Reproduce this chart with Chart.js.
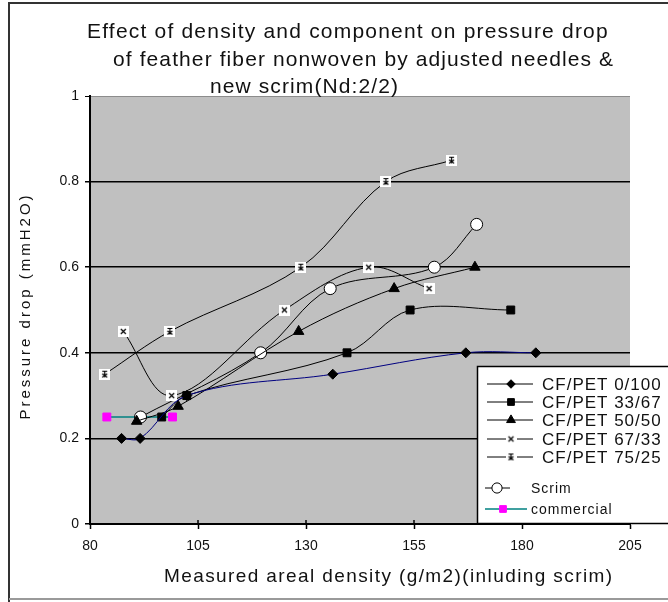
<!DOCTYPE html>
<html>
<head>
<meta charset="utf-8">
<script src="https://cdn.jsdelivr.net/npm/chart.js@4.4.1/dist/chart.umd.min.js"></script>
<style>
    html, body { margin: 0; padding: 0; background: #ffffff; }
    #quadro { width: 668px; height: 602px; }
</style>
</head>
<body>
<div id="quadro"><canvas id="graficoQueda" width="668" height="602"></canvas></div>
<script>
//===============================================================
// ========================== DADOS =============================
//===============================================================
// densidade areal medida (g/m2) x queda de pressao (mmH2O)
const densidade0100 = [87.3, 91.6, 102.4, 136.2, 167.0, 183.2];
const queda0100 = [0.20, 0.20, 0.30, 0.35, 0.40, 0.40];

const densidade3367 = [96.6, 102.4, 139.5, 154.1, 177.4];
const queda3367 = [0.25, 0.30, 0.40, 0.50, 0.50];

const densidade5050 = [90.8, 100.4, 128.3, 150.4, 169.1];
const queda5050 = [0.24, 0.275, 0.45, 0.55, 0.60];

const densidade6733 = [87.7, 98.9, 125.0, 144.5, 158.5];
const queda6733 = [0.45, 0.30, 0.50, 0.60, 0.55];

const densidade7525 = [83.4, 98.5, 128.8, 148.5, 163.7];
const queda7525 = [0.35, 0.45, 0.60, 0.80, 0.85];

const densidadeScrim = [91.7, 119.5, 135.6, 159.7, 169.5];
const quedaScrim = [0.25, 0.40, 0.55, 0.60, 0.70];

const densidadeComercial = [83.9, 99.1];
const quedaComercial = [0.25, 0.25];

const nomesSeries = [
    "CF/PET 0/100",
    "CF/PET 33/67",
    "CF/PET 50/50",
    "CF/PET 67/33",
    "CF/PET 75/25",
    "Scrim",
    "commercial"
];

const ticksX = [80, 105, 130, 155, 180, 205];
const ticksY = [0, 0.2, 0.4, 0.6, 0.8, 1];

const linhasTitulo = [
    "Effect of density and component on pressure drop",
    "of feather fiber nonwoven by adjusted needles &",
    "new scrim(Nd:2/2)"
];
const tituloX = "Measured areal density (g/m2)(inluding scrim)";
const tituloY = "Pressure drop (mmH2O)";

//===============================================================
// ========================= FUNÇÕES ============================
//===============================================================

function pontos(xs, ys) {
    return xs.map((x, i) => ({ x: x, y: ys[i] }));
}

// marcador em caixa branca (x e estrela do excel)
function marcadorCaixa(desenho) {
    const c = document.createElement("canvas");
    c.width = 11;
    c.height = 11;
    const g = c.getContext("2d");
    g.fillStyle = "#ffffff";
    g.fillRect(0, 0, 11, 11);
    g.strokeStyle = "#000000";
    g.lineWidth = 1.2;
    desenho(g);
    return c;
}

const marcadorX = marcadorCaixa(g => {
    g.beginPath();
    g.moveTo(3, 3); g.lineTo(8, 8);
    g.moveTo(8, 3); g.lineTo(3, 8);
    g.stroke();
});

const marcadorEstrela = marcadorCaixa(g => {
    g.beginPath();
    g.moveTo(3, 2.5); g.lineTo(8, 2.5);
    g.moveTo(5.5, 2.5); g.lineTo(5.5, 8.5);
    g.moveTo(3, 5); g.lineTo(8, 8.5);
    g.moveTo(8, 5); g.lineTo(3, 8.5);
    g.stroke();
});

function serie(indice, xs, ys, extra) {
    return Object.assign({
        label: nomesSeries[indice],
        data: pontos(xs, ys),
        showLine: true,
        tension: 0.35,
        borderColor: "#000000",
        borderWidth: 1,
        pointBackgroundColor: "#000000",
        pointBorderColor: "#000000",
        pointBorderWidth: 1,
        pointRadius: 5
    }, extra);
}

function texto(g, str, x, y, fonte, espacamento, alinhamento) {
    g.font = fonte;
    g.letterSpacing = espacamento + "px";
    g.textAlign = alinhamento || "left";
    g.textBaseline = "alphabetic";
    g.fillText(str, x, y);
}

//===============================================================
// ========================= PLUGINS ============================
//===============================================================

const fundoPlot = {
    id: "fundoPlot",
    beforeDraw(chart) {
        const { ctx, chartArea: a } = chart;
        ctx.save();
        ctx.fillStyle = "#c0c0c0";
        ctx.fillRect(a.left, a.top, a.right - a.left, a.bottom - a.top);
        ctx.restore();
    }
};

const textosEMoldura = {
    id: "textosEMoldura",
    afterDraw(chart) {
        const g = chart.ctx;
        g.save();
        g.fillStyle = "#111111";

        // titulo em tres linhas
        texto(g, linhasTitulo[0], 87, 38, "21px 'Liberation Sans', Arial, sans-serif", 1.2);
        texto(g, linhasTitulo[1], 113, 66, "21px 'Liberation Sans', Arial, sans-serif", 1.1);
        texto(g, linhasTitulo[2], 210, 93, "21px 'Liberation Sans', Arial, sans-serif", 1.1);

        // eixo x
        texto(g, tituloX, 164, 582, "19px 'Liberation Sans', Arial, sans-serif", 1.4);

        // eixo y (rotacionado)
        g.save();
        g.translate(30, 306);
        g.rotate(-Math.PI / 2);
        texto(g, tituloY, 0, 0, "15px 'Liberation Sans', Arial, sans-serif", 3, "center");
        g.restore();

        // moldura externa
        g.strokeStyle = "#333333";
        g.lineWidth = 2;
        g.beginPath();
        g.moveTo(9, 602); g.lineTo(9, 3); g.lineTo(668, 3);
        g.stroke();
        g.strokeStyle = "#9a9a9a";
        g.beginPath();
        g.moveTo(9, 599); g.lineTo(668, 599);
        g.stroke();
        g.restore();
    }
};

// traco curto dos ticks do eixo x para dentro da area
const ticksCruzados = {
    id: "ticksCruzados",
    afterDraw(chart) {
        const g = chart.ctx;
        const sx = chart.scales.x;
        const base = chart.chartArea.bottom;
        g.save();
        g.strokeStyle = "#000000";
        g.lineWidth = 1.5;
        ticksX.forEach(v => {
            const px = sx.getPixelForValue(v);
            if (px > 476 && px < 632) return;
            g.beginPath();
            g.moveTo(px, base);
            g.lineTo(px, base - 4);
            g.stroke();
        });
        g.restore();
    }
};

// legenda desenhada a mao: duas fontes e um vao antes do scrim
const legendaLateral = {
    id: "legendaLateral",
    afterDraw(chart) {
        const g = chart.ctx;
        const linhas = [
            { y: 384, x0: 487, x1: 533, xm: 511, xt: 542, grande: true },
            { y: 402, x0: 487, x1: 533, xm: 511, xt: 542, grande: true },
            { y: 420, x0: 487, x1: 533, xm: 511, xt: 542, grande: true },
            { y: 439, x0: 487, x1: 533, xm: 511, xt: 542, grande: true },
            { y: 457, x0: 487, x1: 533, xm: 511, xt: 542, grande: true },
            { y: 488, x0: 485, x1: 510, xm: 497, xt: 531, grande: false },
            { y: 509, x0: 485, x1: 527, xm: 503, xt: 531, grande: false }
        ];
        g.save();
        g.fillStyle = "#ffffff";
        g.fillRect(477, 366, 200, 157);
        g.strokeStyle = "#000000";
        g.lineWidth = 1.5;
        g.strokeRect(477.5, 366.5, 200, 157);

        chart.data.datasets.forEach((ds, i) => {
            const l = linhas[i];
            g.strokeStyle = ds.corLegenda || ds.borderColor;
            g.lineWidth = ds.borderWidth;
            g.beginPath();
            g.moveTo(l.x0, l.y);
            g.lineTo(l.x1, l.y);
            g.stroke();

            g.fillStyle = ds.pointBackgroundColor;
            g.strokeStyle = ds.pointBorderColor;
            g.lineWidth = ds.pointBorderWidth;
            Chart.helpers.drawPoint(g, {
                pointStyle: ds.pointStyle,
                rotation: 0,
                radius: ds.pointRadius * 0.85,
                borderWidth: ds.pointBorderWidth
            }, l.xm, l.y);

            g.fillStyle = "#111111";
            if (l.grande) {
                texto(g, ds.label, l.xt, l.y + 6, "17px 'Liberation Sans', Arial, sans-serif", 1);
            } else {
                texto(g, ds.label, l.xt, l.y + 5, "14px 'Liberation Sans', Arial, sans-serif", 1);
            }
        });
        g.restore();
    }
};

//===============================================================
// ========================= GRÁFICO ============================
//===============================================================

const ctx = document.getElementById("graficoQueda");

new Chart(ctx, {
    type: "scatter",
    data: {
        datasets: [
            serie(0, densidade0100, queda0100, {
                borderColor: "#000080",
                corLegenda: "#000000",
                pointStyle: "rectRot",
                pointRadius: 5
            }),
            serie(1, densidade3367, queda3367, {
                pointStyle: "rect",
                pointRadius: 5.6
            }),
            serie(2, densidade5050, queda5050, {
                pointStyle: "triangle",
                pointRadius: 6
            }),
            serie(3, densidade6733, queda6733, {
                pointStyle: marcadorX
            }),
            serie(4, densidade7525, queda7525, {
                pointStyle: marcadorEstrela
            }),
            serie(5, densidadeScrim, quedaScrim, {
                pointStyle: "circle",
                pointRadius: 6,
                pointBackgroundColor: "#ffffff"
            }),
            serie(6, densidadeComercial, quedaComercial, {
                borderColor: "#008080",
                borderWidth: 1.5,
                pointStyle: "rect",
                pointRadius: 5.6,
                pointBackgroundColor: "#ff00ff",
                pointBorderColor: "#ff00ff"
            })
        ]
    },
    options: {
        responsive: false,
        devicePixelRatio: 1,
        animation: false,
        layout: {
            padding: { left: 9, top: 96, right: 38, bottom: 0 }
        },
        plugins: {
            legend: { display: false },
            title: { display: false },
            tooltip: { enabled: false }
        },
        scales: {
            x: {
                type: "linear",
                min: ticksX[0],
                max: ticksX[ticksX.length - 1],
                afterBuildTicks: scale => {
                    scale.ticks = ticksX.map(v => ({ value: v }));
                },
                afterFit: scale => { scale.height = 78; },
                ticks: {
                    color: "#111111",
                    padding: 9,
                    font: { family: "'Liberation Sans', Arial, sans-serif", size: 14 }
                },
                grid: {
                    drawOnChartArea: false,
                    tickLength: 5,
                    tickColor: "#000000",
                    tickWidth: 1.5
                },
                border: { color: "#000000", width: 2 }
            },
            y: {
                min: ticksY[0],
                max: ticksY[ticksY.length - 1],
                afterBuildTicks: scale => {
                    scale.ticks = ticksY.map(v => ({ value: v }));
                },
                afterFit: scale => { scale.width = 81; },
                ticks: {
                    color: "#111111",
                    padding: 6,
                    font: { family: "'Liberation Sans', Arial, sans-serif", size: 14 },
                    callback: v => (v === 0 || v === 1) ? String(v) : v.toFixed(1)
                },
                grid: {
                    color: c => c.tick && c.tick.value === 1 ? "#8c8c8c" : "#000000",
                    lineWidth: c => c.tick && c.tick.value === 1 ? 1 : 1.5,
                    tickLength: 5,
                    tickColor: "#000000"
                },
                border: { color: "#000000", width: 2 }
            }
        }
    },
    plugins: [fundoPlot, textosEMoldura, ticksCruzados, legendaLateral]
});
</script>
</body>
</html>
